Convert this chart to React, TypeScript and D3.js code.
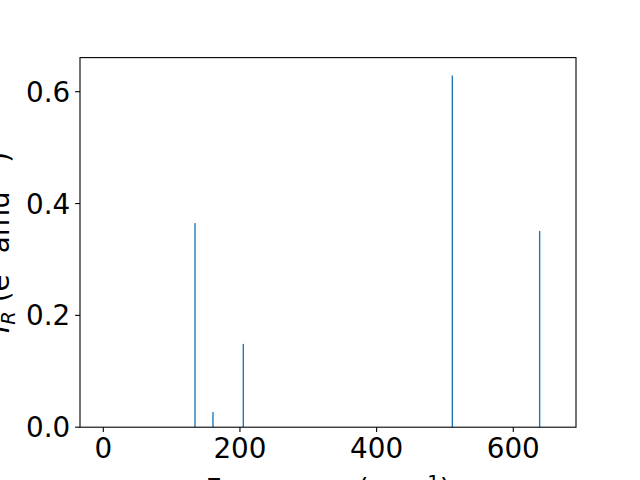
import React from "react";
import * as d3 from "d3";

const frequencies = [134.2, 160.5, 204.9, 510.8, 638.6];
const intensities = [0.365, 0.027, 0.149, 0.629, 0.351];
const xTicks = [0, 200, 400, 600];
const yTicks = [0.0, 0.2, 0.4, 0.6];

const W = 640;
const H = 480;
const left = 80;
const right = 576;
const top = 57.6;
const bottom = 427.2;
const barWidth = 2;
const blue = "#1f77b4";
const font = "DejaVu Sans, sans-serif";
const fs = 27.8;

export default function App() {
  const x = d3.scaleLinear().domain([-34.1, 691.8]).range([left, right]);
  const y = d3.scaleLinear().domain([0, 0.661]).range([bottom, top]);
  const tick = 4.9;
  const pad = 4.9;
  return (
    <svg width={W} height={H} style={{ position: "absolute", left: 0, top: 0, background: "#fff" }}>
      <rect x={0} y={0} width={W} height={H} fill="#fff" />
      <g>
        {frequencies.map((f, i) => (
          <rect
            key={i}
            x={x(f - barWidth / 2)}
            width={x(f + barWidth / 2) - x(f - barWidth / 2)}
            y={y(intensities[i])}
            height={y(0) - y(intensities[i])}
            fill={blue}
          />
        ))}
      </g>
      <rect x={left} y={top} width={right - left} height={bottom - top} fill="none" stroke="#000" strokeWidth={1.1} />
      {xTicks.map((t) => (
        <g key={t}>
          <line x1={x(t)} x2={x(t)} y1={bottom} y2={bottom + tick} stroke="#000" strokeWidth={1.1} />
          <text x={x(t)} y={bottom + tick + pad + fs * 0.76} textAnchor="middle" fontFamily={font} fontSize={fs} fill="#000">
            {t}
          </text>
        </g>
      ))}
      {yTicks.map((t) => (
        <g key={t}>
          <line x1={left - tick} x2={left} y1={y(t)} y2={y(t)} stroke="#000" strokeWidth={1.1} />
          <text x={left - tick - pad} y={y(t)} dy="0.36em" textAnchor="end" fontFamily={font} fontSize={fs} fill="#000">
            {d3.format(".1f")(t)}
          </text>
        </g>
      ))}
      <text x={(left + right) / 2} y={499} textAnchor="middle" fontFamily={font} fontSize={fs} fill="#000">
        Frequency (cm
        <tspan fontSize={fs * 0.7} dy={-fs * 0.36}>{"\u22121"}</tspan>
        <tspan dy={fs * 0.36}>)</tspan>
      </text>
      <text transform={`translate(9, ${(top + bottom) / 2}) rotate(-90)`} textAnchor="middle" fontFamily={font} fontSize={fs} fill="#000">
        <tspan fontStyle="italic">I</tspan>
        <tspan fontStyle="italic" fontSize={fs * 0.7} dy={fs * 0.2}>R</tspan>
        <tspan dy={-fs * 0.2}> (e</tspan>
        <tspan fontSize={fs * 0.7} dy={-fs * 0.36}>2</tspan>
        <tspan dy={fs * 0.36}> amu</tspan>
        <tspan fontSize={fs * 0.7} dy={-fs * 0.36}>{"\u22121"}</tspan>
        <tspan dy={fs * 0.36}>)</tspan>
      </text>
    </svg>
  );
}
